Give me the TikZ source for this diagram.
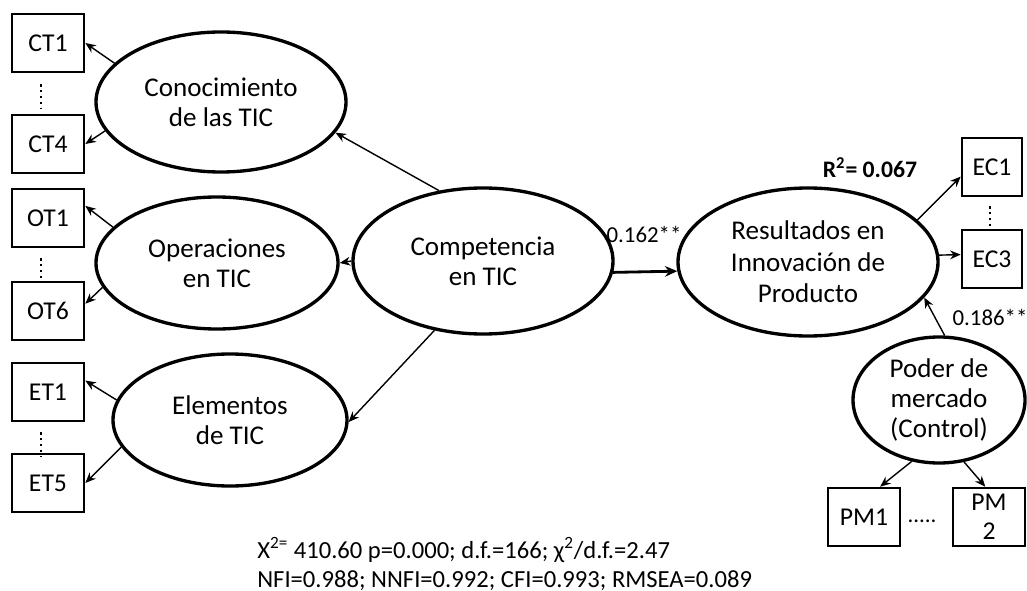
\documentclass[tikz,border=0pt]{standalone}
\usepackage{fontspec}
\setmainfont{Carlito}
\usetikzlibrary{shapes.geometric,arrows.meta,calc}
\begin{document}
\begin{tikzpicture}[x=0.02cm,y=-0.02cm,
  latent/.style={draw,ellipse,line width=1.9pt,inner sep=0pt,align=center,
    font=\fontsize{15.4}{17}\selectfont},
  indicator/.style={draw,rectangle,line width=1.5pt,inner sep=0pt,align=center,
    minimum width=72*0.02cm,minimum height=58*0.02cm,
    font=\fontsize{14.6}{16.5}\selectfont},
  path/.style={-{Stealth[length=6pt,width=5pt]},line width=0.8pt},
  mainpath/.style={-{Stealth[length=7pt,width=6pt]},line width=1.6pt},
  dots/.style={dotted,line width=1.3pt},
  coef/.style={font=\fontsize{13}{15}\selectfont}
]
\useasboundingbox (0,0) rectangle (1027,591);

% latent constructs
\node[latent,minimum width=250*0.02cm,minimum height=140*0.02cm] (conoc) at (221,102) {Conocimiento\\de las TIC};
\node[latent,minimum width=242*0.02cm,minimum height=132*0.02cm] (oper) at (217,263) {Operaciones\\en TIC};
\node[latent,minimum width=234*0.02cm,minimum height=132*0.02cm] (elem) at (230,420) {Elementos\\de TIC};
\node[latent,minimum width=260*0.02cm,minimum height=146*0.02cm] (comp) at (483,261) {Competencia\\en TIC};
\node[latent,minimum width=260*0.02cm,minimum height=148*0.02cm,
  font=\fontsize{15.4}{18}\selectfont] (res) at (808,262) {Resultados en\\Innovación de\\Producto};
\node[latent,minimum width=172*0.02cm,minimum height=126*0.02cm] (poder) at (939,400) {Poder de\\mercado\\(Control)};

% observed indicators
\node[indicator] (CT1) at (48,43) {CT1};
\node[indicator] (CT4) at (48,144) {CT4};
\node[indicator] (OT1) at (48,218) {OT1};
\node[indicator] (OT6) at (48,311) {OT6};
\node[indicator] (ET1) at (48,392) {ET1};
\node[indicator] (ET5) at (48,483) {ET5};
\node[indicator,minimum width=60*0.02cm] (EC1) at (992,167) {EC1};
\node[indicator,minimum width=60*0.02cm] (EC3) at (992,259) {EC3};
\node[indicator] (PM1) at (864,517) {PM1};
\node[indicator] (PM2) at (989,517) {PM\\2};

% ellipsis marks between indicators
\draw[dots] (CT1.south -| 41,0) ++(0,11) -- ++(0,25);
\draw[dots] (OT1.south -| 41,0) ++(0,10) -- ++(0,25);
\draw[dots] (ET1.south -| 41,0) ++(0,10) -- ++(0,25);
\draw[dots] (EC1.south -| 990,0) ++(0,9) -- ++(0,23);
\node[coef] (pmdots) at (922,521) {.....};

% structural paths
\draw[path] (comp.122) -- (conoc.-15);
\draw[path] (comp.180) -- (oper.0);
\draw[path] (comp.235) -- (elem.-1);
\draw[mainpath] (comp.-5) -- (res.184);
\draw[path] (poder.85) -- (res.-17);

% measurement paths
\draw[path] (conoc.160) -- (CT1.east);
\draw[path] (conoc.194) -- (CT4.east);
\draw[path] (oper.161) -- (OT1.18);
\draw[path] (oper.192) -- (OT6.11);
\draw[path] (elem.170) -- (ET1.17);
\draw[path] (elem.194) -- (ET5.east);
\draw[path] (res.21) -- (EC1.197);
\draw[path] (res.3) -- (EC3.172);
\draw[path] (poder.246) -- (PM1.62);
\draw[path] (poder.-68) -- (PM2.97);

% coefficients
\node[coef] (b1) at (644,234) {0.162**};
\node[coef] (b2) at (990,317) {0.186**};
\node[font=\bfseries\fontsize{13.5}{15}\selectfont] (r2) at (870,168) {R\textsuperscript{2}= 0.067};

% fit indices
\node[anchor=base west,inner sep=0pt,font=\fontsize{14}{16}\selectfont] (fit1) at (257,558)
  {X\textsuperscript{2=} 410.60 p=0.000; d.f.=166; χ\textsuperscript{2}/d.f.=2.47};
\node[anchor=base west,inner sep=0pt,font=\fontsize{14}{16}\selectfont] (fit2) at (257,587)
  {NFI=0.988; NNFI=0.992; CFI=0.993; RMSEA=0.089};
\end{tikzpicture}
\end{document}
